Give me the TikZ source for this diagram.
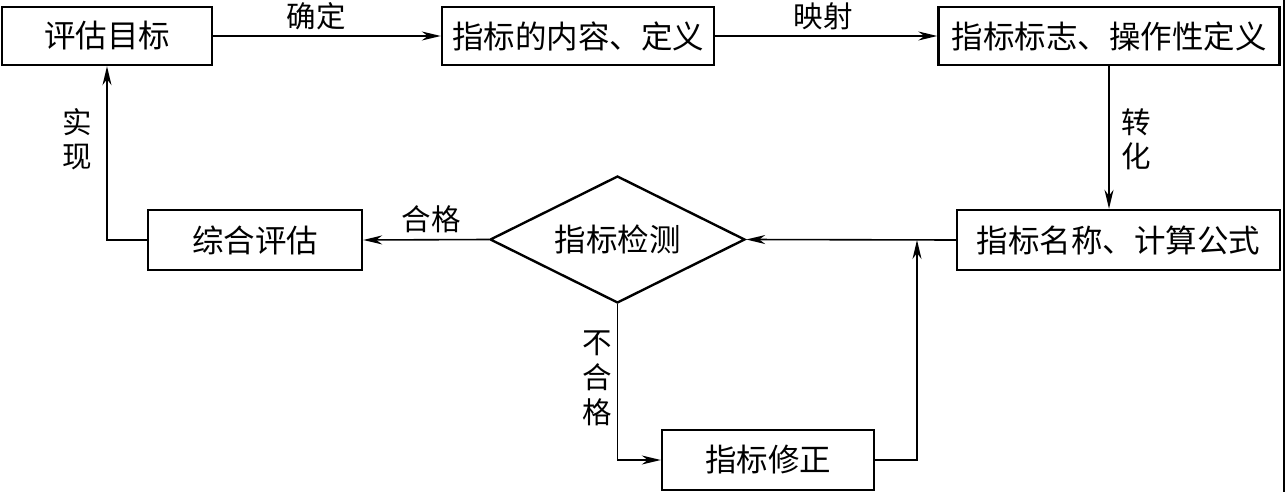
\documentclass[tikz,border=0pt]{standalone}
\usepackage{fontspec}
\newfontfamily\cjk{Noto Sans CJK SC}
\usetikzlibrary{arrows.meta,shapes.geometric}
\begin{document}
\begin{tikzpicture}[x=1pt,y=-1pt,
  box/.style={draw,line width=2.4pt,inner sep=0pt,font=\cjk\fontsize{31.5}{36}\selectfont},
  dia/.style={draw,diamond,shape aspect=2,line width=2.4pt,inner sep=0pt,minimum width=255pt,minimum height=127pt,font=\cjk\fontsize{31.5}{36}\selectfont},
  conn/.style={line width=1.6pt},
  arr/.style={conn,-{Stealth[length=19pt,width=9pt,inset=6pt]}},
  lbl/.style={inner sep=0pt,align=center,font=\cjk\fontsize{29.5}{34}\selectfont}]
\useasboundingbox (0,0) rectangle (1285,492);
\node[box,minimum width=210pt,minimum height=58pt] (b1) at (107,36) {评估目标};
\node[box,minimum width=272pt,minimum height=58pt] (b2) at (578,36) {指标的内容、定义};
\node[box,minimum width=341pt,minimum height=58pt] (b3) at (1109,36) {指标标志、操作性定义};
\node[box,minimum width=323pt,minimum height=60pt] (b4) at (1118.5,240) {指标名称、计算公式};
\node[dia] (d) at (617.5,239.5) {指标检测};
\node[box,minimum width=214pt,minimum height=60pt] (b5) at (255,240) {综合评估};
\node[box,minimum width=212pt,minimum height=60pt] (b6) at (768,460) {指标修正};
\coordinate (j) at (917,240);
\draw[arr] (b1.east) -- (b2.west);
\draw[arr] (b2.east) -- (b3.west);
\draw[arr] (b3.south) -- (b3.south |- b4.north);
\draw[arr] (b4.west) -- (d.east);
\draw[arr] (d.west) -- (b5.east);
\draw[arr] (b5.west) -| (b1.south);
\draw[arr] (d.south) |- (b6.west);
\draw[arr] (b6.east) -| (j);
\node[lbl] (l1) at (316,16) {确定};
\node[lbl] (l2) at (823,16) {映射};
\node[lbl] (l3) at (1136,139) {转\\化};
\node[lbl] (l4) at (77,139) {实\\现};
\node[lbl] (l5) at (431,219) {合格};
\node[lbl,font=\cjk\fontsize{29.5}{35}\selectfont] (l6) at (597,378) {不\\合\\格};
\draw[line width=2.5pt] (1283.8,0) -- (1283.8,492);
\end{tikzpicture}
\end{document}
